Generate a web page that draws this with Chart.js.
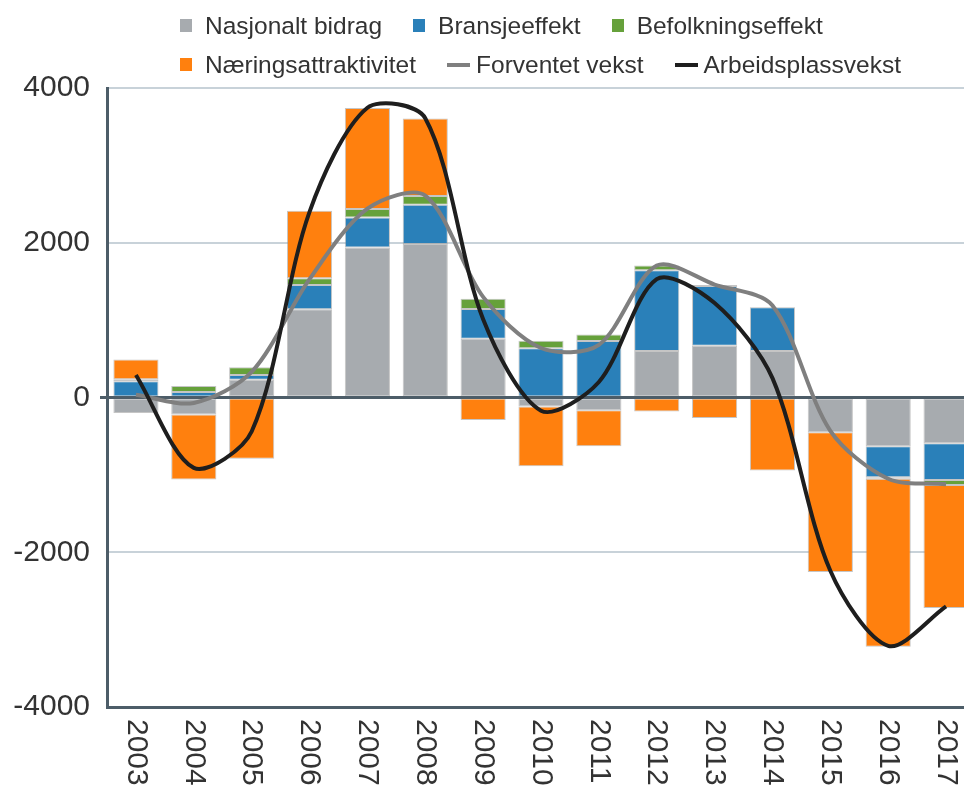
<!DOCTYPE html>
<html>
<head>
<meta charset="utf-8">
<script src="https://cdn.jsdelivr.net/npm/chart.js@4"></script>
<style>
	html, body { margin: 0; padding: 0; overflow: hidden; background: #fff; }
	#wrap { position: relative; width: 975px; height: 789px; }
	#legend { position: absolute; left: 180px; top: 6px; font: 24.5px 'Liberation Sans', Arial, sans-serif; color: #333; }
	.row { display: flex; gap: 31px; height: 39px; align-items: center; }
	.item { display: flex; align-items: center; white-space: nowrap; }
	.sq { width: 12px; height: 13px; margin-right: 13px; }
	.ln { width: 23px; height: 4px; margin-right: 6px; }
</style>
</head>
<body>
<div id="wrap">
	<canvas id="chart"></canvas>
	<div id="legend"></div>
</div>
<script>
const years = ['2003', '2004', '2005', '2006', '2007', '2008', '2009', '2010', '2011', '2012', '2013', '2014', '2015', '2016', '2017'];

const nasjonaltBidrag = [-200, -220, 230, 1140, 1940, 1985, 760, -115, -165, 600, 670, 600, -450, -630, -590];
const bransjeeffekt = [210, 70, 60, 315, 385, 505, 385, 635, 730, 1045, 770, 565, 15, -400, -475];
const befolkningseffekt = [25, 80, 100, 85, 110, 115, 130, 100, 85, 60, 15, 5, 0, -20, -65];
const naeringsattraktivitet = [255, -840, -790, 875, 1305, 1000, -290, -775, -465, -180, -265, -945, -1805, -2170, -1590];
const forventetVekst = [35, -70, 330, 1530, 2440, 2610, 1300, 640, 680, 1705, 1460, 1190, -430, -1050, -1120];
const arbeidsplassvekst = [290, -910, -440, 2400, 3745, 3610, 1010, -170, 200, 1530, 1220, 250, -2240, -3210, -2700];

const yTicks = [-4000, -2000, 0, 2000, 4000];

const FONT = "'Liberation Sans', Arial, sans-serif";
const AXIS = '#4d5d68';

function bar(label, data, color) {
	return {
		type: 'bar',
		label: label,
		data: data,
		backgroundColor: color,
		borderColor: 'rgba(150,150,150,0.55)',
		borderWidth: 1,
		borderSkipped: false,
		stack: 'bars',
		order: 3,
		barPercentage: 0.78,
		categoryPercentage: 1
	};
}

function line(label, data, color, order) {
	return {
		type: 'line',
		label: label,
		data: data,
		borderColor: color,
		backgroundColor: color,
		borderWidth: 4,
		pointRadius: 0,
		tension: 0.3,
		fill: false,
		stack: label,
		order: order
	};
}

// zero line over the bars, under the two lines
const zeroLine = {
	id: 'zeroLine',
	beforeDatasetDraw(chart, args) {
		if (chart.data.datasets[args.index].label !== 'Forventet vekst')
			return;
		const y = chart.scales.y.getPixelForValue(0);
		const ctx = chart.ctx;
		ctx.save();
		ctx.strokeStyle = AXIS;
		ctx.lineWidth = 3;
		ctx.beginPath();
		ctx.moveTo(chart.chartArea.left - 7, y);
		ctx.lineTo(chart.chartArea.right, y);
		ctx.stroke();
		ctx.restore();
	}
};

// year labels turned to read top to bottom
const yearLabels = {
	id: 'yearLabels',
	afterDraw(chart) {
		const x = chart.scales.x;
		const ctx = chart.ctx;
		ctx.save();
		ctx.font = '30px ' + FONT;
		ctx.fillStyle = '#333';
		ctx.textAlign = 'left';
		ctx.textBaseline = 'middle';
		years.forEach((year, i) => {
			ctx.save();
			ctx.translate(x.getPixelForTick(i), chart.chartArea.bottom + 12);
			ctx.rotate(Math.PI / 2);
			ctx.fillText(year, 0, 0);
			ctx.restore();
		});
		ctx.restore();
	}
};

const chart = new Chart(document.getElementById('chart'), {
	data: {
		labels: years,
		datasets: [
			bar('Nasjonalt bidrag', nasjonaltBidrag, '#a7abaf'),
			bar('Bransjeeffekt', bransjeeffekt, '#2a80b9'),
			bar('Befolkningseffekt', befolkningseffekt, '#66a13b'),
			bar('Næringsattraktivitet', naeringsattraktivitet, '#ff800e'),
			line('Forventet vekst', forventetVekst, '#7f7f7f', 2),
			line('Arbeidsplassvekst', arbeidsplassvekst, '#1e1e1e', 1)
		]
	},
	options: {
		responsive: true,
		maintainAspectRatio: false,
		animation: false,
		layout: {
			padding: { top: 88, left: 12, right: 0, bottom: 82 }
		},
		plugins: {
			legend: { display: false },
			tooltip: { enabled: false }
		},
		scales: {
			x: {
				stacked: true,
				ticks: { display: false },
				grid: { display: false, drawTicks: false },
				border: { color: AXIS, width: 3 }
			},
			y: {
				stacked: true,
				min: -4000,
				max: 4000,
				afterBuildTicks(scale) {
					scale.ticks = yTicks.map(v => ({ value: v }));
				},
				afterFit(scale) {
					scale.width = 95;
				},
				ticks: {
					padding: 17,
					color: '#333',
					font: { family: FONT, size: 30 },
					callback: value => String(value)
				},
				grid: {
					drawTicks: false,
					lineWidth: 2,
					color: ctx => (ctx.tick.value === 0 || ctx.tick.value === -4000) ? 'rgba(0,0,0,0)' : '#c8d2d9'
				},
				border: { color: AXIS, width: 3 }
			}
		}
	},
	plugins: [zeroLine, yearLabels]
});

// legend as html, built from the chart datasets
const rows = [[0, 1, 2], [3, 4, 5]];
const legend = document.getElementById('legend');
rows.forEach(row => {
	const r = document.createElement('div');
	r.className = 'row';
	row.forEach(i => {
		const ds = chart.data.datasets[i];
		const item = document.createElement('div');
		item.className = 'item';
		const mark = document.createElement('span');
		mark.className = ds.type === 'line' ? 'ln' : 'sq';
		mark.style.background = ds.type === 'line' ? ds.borderColor : ds.backgroundColor;
		const text = document.createElement('span');
		text.textContent = ds.label;
		item.appendChild(mark);
		item.appendChild(text);
		r.appendChild(item);
	});
	legend.appendChild(r);
});
</script>
</body>
</html>
